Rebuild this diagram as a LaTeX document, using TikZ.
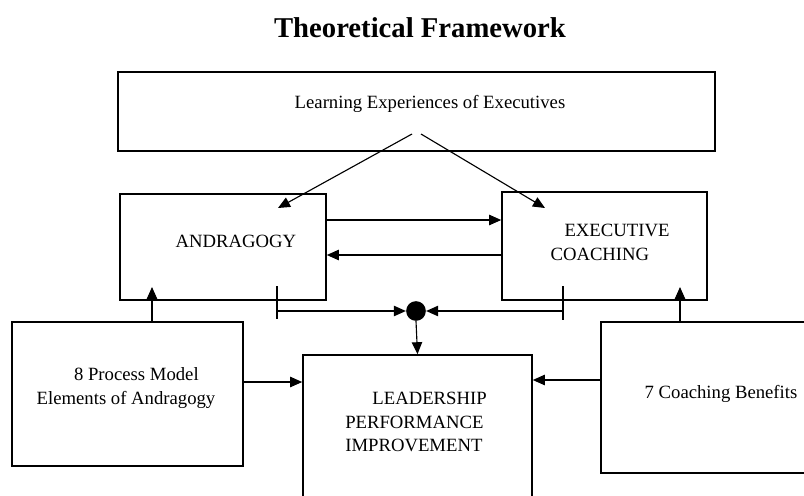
\documentclass[tikz,border=0pt]{standalone}
\usepackage{fontspec}
\setmainfont{Liberation Serif}
\usetikzlibrary{arrows.meta}

\begin{document}
\begin{tikzpicture}[x=0.025cm,y=-0.025cm,
  box/.style={draw, line width=1.1pt, inner sep=0pt},
  lbl/.style={font=\fontsize{13.3}{17}\selectfont, align=center, inner sep=0pt},
  arr/.style={line width=0.8pt, -{Triangle[length=3mm,width=2.6mm]}}]
\useasboundingbox (0,0) rectangle (804,495);
\clip (0,0) rectangle (804,495);

\node[font=\bfseries\fontsize{20.4}{24}\selectfont] (title) at (420,28) {Theoretical Framework};

% boxes
\node[box, minimum width=14.925cm, minimum height=1.975cm] (learn) at (416.5,111.5) {};
\node[box, minimum width=5.15cm, minimum height=2.65cm] (andr) at (223,247) {};
\node[box, minimum width=5.125cm, minimum height=2.7cm] (coach) at (604.5,246) {};
\node[box, minimum width=5.775cm, minimum height=3.6cm] (proc) at (127.5,394) {};
\node[box, minimum width=5.725cm, minimum height=4cm] (lead) at (417.5,435) {};
\node[box, minimum width=5.475cm, minimum height=3.775cm] (bene) at (710.5,397.5) {};

% texts
\node[lbl] (learntxt) at (430,104) {Learning Experiences of Executives};
\node[lbl] (andrtxt) at (236,241) {ANDRAGOGY};
\node[lbl, align=left] (coachtxt) at (610,242) {\hspace{0.75em}EXECUTIVE\\COACHING};
\node[lbl, align=left] (proctxt) at (126,388) {\hspace{2em}8 Process Model\\Elements of Andragogy};
\node[lbl, align=left] (leadtxt) at (416,422) {\hspace{1.45em}LEADERSHIP\\PERFORMANCE\\IMPROVEMENT};
\node[lbl] (benetxt) at (721,394) {7 Coaching Benefits};

% junction
\node[circle, fill=black, inner sep=0pt, minimum size=14] (dot) at (416,311) {};
\coordinate (apexL) at (412,134);
\coordinate (apexR) at (421,134);
\coordinate (tipL) at (278,208);
\coordinate (tipR) at (545,208);
\coordinate (tickL) at (277,311);
\coordinate (tickR) at (563,311);

% connectors
\draw[arr] (apexL) -- (tipL);
\draw[arr] (apexR) -- (tipR);
\draw[arr] (andr.east |- 0,220) -- (coach.west |- 0,220);
\draw[arr] (coach.west |- 0,255) -- (andr.east |- 0,255);
\draw[arr] (proc.north -| 152,0) -- (152,287);
\draw[arr] (bene.north -| 680,0) -- (680,287);
\draw[line width=0.8pt] (277,286) -- (277,319);
\draw[line width=0.8pt] (563,286) -- (563,320);
\draw[arr] (tickL) -- (dot.west);
\draw[arr] (tickR) -- (dot.east);
\draw[arr] (dot.south) -- (lead.north);
\draw[arr] (proc.east |- 0,382) -- (lead.west |- 0,382);
\draw[arr] (bene.west |- 0,380) -- (lead.east |- 0,380);

\end{tikzpicture}
\end{document}
